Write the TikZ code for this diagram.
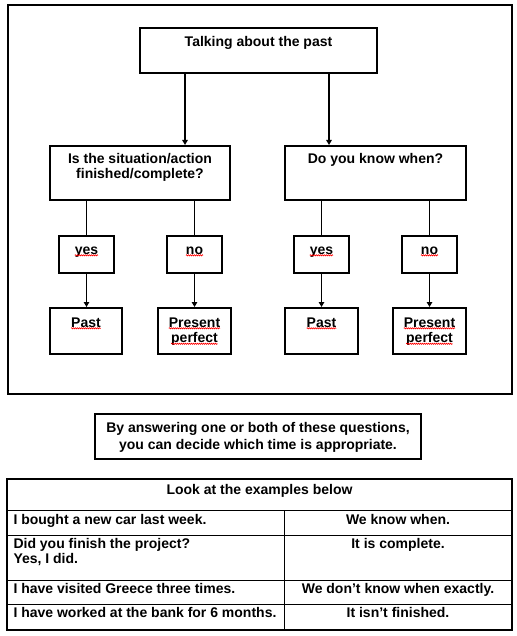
\documentclass[tikz,border=0pt]{standalone}
\usepackage{fontspec}
\setmainfont{Liberation Sans}
\usetikzlibrary{arrows.meta,fit,decorations.pathmorphing}

% text block with fixed size, first baseline at #4 below the top
\newcommand\boxtxt[5][\centering]{\parbox[c][#3][t]{#2}{#1\rule{0pt}{#4}#5}}

\begin{document}
\begin{tikzpicture}[
  x=1pt,y=-1pt,
  font=\fontsize{14}{15.5}\selectfont\bfseries,
  >={Triangle[length=5pt,width=5.5pt]},
  box/.style={draw=black,line width=2pt,inner sep=0pt,anchor=north west},
  frame/.style={draw=black,line width=2.4pt,inner sep=0pt,anchor=north west},
  cell/.style={draw=black,line width=1pt,inner sep=0pt,anchor=north west},
  link/.style={line width=1.8pt},
  flow/.style={link,->},
  squig/.style={draw=red,line width=0.6pt,decorate,
                decoration={zigzag,segment length=2pt,amplitude=0.6pt}}
]
\useasboundingbox (0,0) rectangle (516,636);

% ---- cadrul schemei ----
\node[frame,minimum width=504pt,minimum height=389pt] (frame) at (7,4) {};

% ---- intrebarea de pornire si cele doua intrebari ----
\node[box] (talk) at (139,27) {\boxtxt{237pt}{45pt}{18.7pt}{Talking about the past}};
\node[box] (fin) at (49,145) {\boxtxt{180pt}{54pt}{17.5pt}{Is the situation/action\\finished/complete?}};
\node[box] (when) at (284,145) {\boxtxt{181pt}{54pt}{18pt}{Do you know when?}};

% ---- raspunsuri ----
\node[box] (yes1) at (58,235) {\boxtxt{55pt}{37pt}{18.3pt}{yes}};
\node[box] (no1) at (166,235) {\boxtxt{55pt}{37pt}{18.3pt}{no}};
\node[box] (yes2) at (293,235) {\boxtxt{55pt}{37pt}{18.3pt}{yes}};
\node[box] (no2) at (401,235) {\boxtxt{55pt}{37pt}{18.3pt}{no}};

% ---- timpuri verbale ----
\node[box] (past1) at (49,307) {\boxtxt{72pt}{46pt}{19.3pt}{Past}};
\node[box] (pp1) at (157,307) {\boxtxt{73pt}{46pt}{19.3pt}{Present\\perfect}};
\node[box] (past2) at (284,307) {\boxtxt{73pt}{46pt}{19.3pt}{Past}};
\node[box] (pp2) at (392,307) {\boxtxt{73pt}{46pt}{19.3pt}{Present\\perfect}};

% ---- sageti ----
\draw[flow] ([xshift=46pt]talk.south west) -- ([xshift=46pt]talk.south west |- fin.north);
\draw[flow] ([xshift=190pt]talk.south west) -- ([xshift=190pt]talk.south west |- when.north);
\foreach \q/\a/\t in {fin/yes1/past1, fin/no1/pp1, when/yes2/past2, when/no2/pp2} {
  \draw[link] (\q.south -| \a) -- (\a.north);
  \draw[flow] (\a.south) -- (\a.south |- \t.north);
}

% sublinierile rosii
\foreach \n/\w/\d in {yes1/23.4/20.3, no1/17.1/20.3, yes2/23.4/20.3, no2/17.1/20.3,
                      past1/29.6/21.3, past2/29.6/21.3, pp1/51.4/21.3, pp2/51.4/21.3,
                      pp1/46.7/36.8, pp2/46.7/36.8}
  \draw[squig] ([shift={(-\w/2,\d)}]\n.north) -- ++(\w,0);

% ---- nota ----
\node[box] (note) at (94,413) {\boxtxt{326pt}{45pt}{18.7pt}{By answering one or both of these questions,\\[1.2pt]you can decide which time is appropriate.}};

% ---- tabelul cu exemple ----
\node[cell] (head) at (7,479) {\boxtxt{504pt}{31pt}{14.7pt}{Look at the examples below}};
\node[cell] (r1a) at (7,510) {\boxtxt[\raggedright\leftskip=6pt]{277pt}{25pt}{13.7pt}{I bought a new car last week.}};
\node[cell] (r1b) at (284,510) {\boxtxt{227pt}{25pt}{13.7pt}{We know when.}};
\node[cell] (r2a) at (7,535) {\boxtxt[\raggedright\leftskip=6pt]{277pt}{45pt}{12.7pt}{Did you finish the project?\\[-0.5pt]Yes, I did.}};
\node[cell] (r2b) at (284,535) {\boxtxt{227pt}{45pt}{12.7pt}{It is complete.}};
\node[cell] (r3a) at (7,580) {\boxtxt[\raggedright\leftskip=6pt]{277pt}{24pt}{13.3pt}{I have visited Greece three times.}};
\node[cell] (r3b) at (284,580) {\boxtxt{227pt}{24pt}{13.3pt}{We don’t know when exactly.}};
\node[cell] (r4a) at (7,604) {\boxtxt[\raggedright\leftskip=6pt]{277pt}{25pt}{13pt}{I have worked at the bank for 6 months.}};
\node[cell] (r4b) at (284,604) {\boxtxt{227pt}{25pt}{13pt}{It isn’t finished.}};
\node[draw=black,line width=2pt,inner sep=0pt,fit=(head)(r4b)] (tab) {};

\end{tikzpicture}
\end{document}
